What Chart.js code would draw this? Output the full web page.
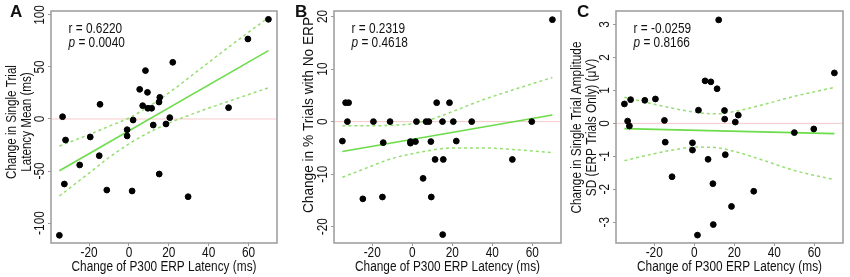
<!DOCTYPE html>
<html>
<head>
<meta charset="utf-8">
<script src="https://cdn.jsdelivr.net/npm/chart.js@4.4.0/dist/chart.umd.min.js"></script>
<style>
  body { margin: 0; background: #fff; width: 850px; height: 277px; position: relative; overflow: hidden; }
  canvas { position: absolute; top: 0; }
</style>
</head>
<body>
<canvas id="chartA" width="283" height="277" style="left:0px"></canvas>
<canvas id="chartB" width="283" height="277" style="left:283px"></canvas>
<canvas id="chartC" width="284" height="277" style="left:566px"></canvas>
<script>
// change of P300 ERP latency (ms), one value per subject, shared by the three panels
const latency = [-34.9, -33.3, -32.4, -31.8, -24.7, -19.4, -14.9, -14.5, -11.1, -0.9,
                 -0.9, 1.6, 2.1, 5.4, 6.9, 8.3, 9.3, 9.5, 11.4, 12.2,
                 15.1, 15.2, 15.5, 18.6, 20.5, 22.0, 29.7, 50.0, 59.7, 70.0];

// panel A: change in single trial latency mean (ms)
const latencyMean = [-111.8, 2.2, -62.5, -20.2, -44.2, -17.3, -35.3, 14.1, -68.3, -10.3,
                     -16.3, -69.2, -1.0, 28.5, 12.8, 46.5, 25.6, 10.3, 10.3, -5.8,
                     16.3, -52.9, 20.8, -4.8, 1.3, 54.5, -74.7, 10.9, 76.9, 95.8];

// panel B: change in % trials with no ERP
const noErpTrials = [-3.7, 3.6, 0, 3.6, -14.7, 0, -14.35, -4.0, 0, -4.1,
                     -3.8, -3.8, 0, -10.8, 0, 0, -3.8, -14.35, -7.2, 3.6,
                     0, -21.5, -7.2, 3.6, 0, -3.7, 0, -7.2, 0, 19.4];

// panel C: change in single trial amplitude SD (ERP trials only) (uV)
const amplitudeSd = [0.59, 0.07, -0.08, 0.72, 0.70, 0.74, 0.09, -0.57, -1.62, -0.59,
                     -0.81, -3.39, 0.40, 1.29, -1.09, 1.26, -1.83, -3.07, 1.05, 3.14,
                     0.39, 0.13, -0.95, -2.52, 0.04, 0.25, -2.06, -0.28, -0.17, 1.53];

// regression lines (end points) and confidence bands
const fitX = [-34.9, 70];
const fitA = [-49.7, 65.7];
const fitB = [-5.7, 1.25];
const fitC = [-0.16, -0.31];

const bandX = [-34.9, -20, -10, 0, 10, 20, 35, 50, 70];
const upperA = [-26, -15, -7, 1, 12, 25, 47, 69, 97.5];
const lowerA = [-74, -52, -37, -24, -13, -4, 7, 17, 30];
const upperB = [-0.8, -0.8, -0.7, -0.4, 0.5, 1.9, 4.1, 6.0, 8.4];
const lowerB = [-10.6, -8.4, -7.0, -6.1, -5.4, -5.0, -5.0, -5.3, -5.9];
const upperC = [0.79, 0.58, 0.45, 0.34, 0.29, 0.36, 0.58, 0.82, 1.09];
const lowerC = [-1.13, -0.92, -0.80, -0.72, -0.73, -0.85, -1.13, -1.43, -1.71];

const xTicks = [-20, 0, 20, 40, 60];
const yTicksA = [-100, -50, 0, 50, 100];
const yTicksB = [-20, -10, 0, 10, 20];
const yTicksC = [-3, -2, -1, 0, 1, 2, 3];

const xTitle = 'Change of P300 ERP Latency (ms)';

// colours
const BOX_GREY = '#9a9a9a';
const FIT_GREEN = '#6cdc4a';
const BAND_GREEN = '#95df72';
const ZERO_PINK = '#f6c9c9';
const INK = '#111';

// the figure's text is Helvetica squeezed horizontally; no narrow face here, so squeeze by hand
const FAMILY = '"Liberation Sans", Arial, sans-serif';
const SIZE = 14;
const SQUEEZE = 0.846;
Chart.defaults.font.family = FAMILY;
Chart.defaults.font.size = SIZE;

const pts = (xs, ys) => xs.map((x, i) => ({ x, y: ys[i] }));

function squeezed(ctx, text, x, y, k, rot, align) {
  ctx.save();
  ctx.translate(x, y);
  if (rot) ctx.rotate(rot);
  ctx.scale(k, 1);
  ctx.textAlign = align || 'center';
  ctx.fillText(text, 0, 0);
  ctx.restore();
}

const panelDecor = {
  id: 'panelDecor',
  afterDraw(chart, args, o) {
    const { ctx, chartArea: a } = chart;
    const { x, y } = chart.scales;
    const up = -Math.PI / 2;
    ctx.save();
    ctx.strokeStyle = BOX_GREY;
    ctx.lineWidth = 1.5;
    ctx.strokeRect(a.left, a.top, a.right - a.left, a.bottom - a.top);

    ctx.fillStyle = INK;
    ctx.textBaseline = 'alphabetic';
    ctx.font = `${SIZE}px ${FAMILY}`;

    // tick labels
    xTicks.forEach(v => squeezed(ctx, String(v), x.getPixelForValue(v), 257, SQUEEZE));
    o.yTicks.forEach(v => squeezed(ctx, String(v), a.left - 7.5, y.getPixelForValue(v), SQUEEZE, up));

    // axis titles
    squeezed(ctx, xTitle, (a.left + a.right) / 2, 271, SQUEEZE);
    o.yTitle.forEach((line, i) =>
      squeezed(ctx, line, a.left + o.yTitleX[i], o.yTitleY, o.yTitleK, up));

    // panel letter
    ctx.font = 'bold 17px ' + FAMILY;
    ctx.textAlign = 'left';
    ctx.fillText(o.letter, o.letterX, 17);

    // r and p
    const tx = a.left + 17.5;
    ctx.font = `${SIZE}px ${FAMILY}`;
    squeezed(ctx, 'r = ' + o.r, tx, a.top + 22.3, SQUEEZE, 0, 'left');
    ctx.font = `italic ${SIZE}px ${FAMILY}`;
    const pw = ctx.measureText('p').width * SQUEEZE;
    squeezed(ctx, 'p', tx, a.top + 35.7, SQUEEZE, 0, 'left');
    ctx.font = `${SIZE}px ${FAMILY}`;
    squeezed(ctx, ' = ' + o.p, tx + pw, a.top + 35.7, SQUEEZE, 0, 'left');
    ctx.restore();
  }
};

function makePanel(id, p) {
  const band = (ys) => ({
    type: 'line', data: pts(bandX, ys), borderColor: BAND_GREEN, borderWidth: 1.5,
    borderDash: [3, 3], pointRadius: 0, cubicInterpolationMode: 'monotone'
  });
  return new Chart(document.getElementById(id), {
    type: 'scatter',
    data: {
      datasets: [
        { data: pts(latency, p.values), backgroundColor: '#000', borderColor: '#000',
          pointRadius: 2.9, pointHoverRadius: 2.9 },
        { type: 'line', data: pts(fitX, p.fit), borderColor: FIT_GREEN, borderWidth: 1.6, pointRadius: 0 },
        band(p.upper),
        band(p.lower),
        { type: 'line', data: [{ x: p.xMin, y: 0 }, { x: p.xMax, y: 0 }],
          borderColor: ZERO_PINK, borderWidth: 1, pointRadius: 0 }
      ]
    },
    options: {
      responsive: false,
      animation: false,
      events: [],
      layout: { padding: { top: 11, right: p.padRight, left: 0, bottom: 0 } },
      plugins: {
        legend: { display: false },
        tooltip: { enabled: false },
        panelDecor: {
          yTicks: p.yTicks, letter: p.letter, letterX: p.letterX, r: p.r, p: p.p,
          yTitle: p.yTitle, yTitleX: p.yTitleX, yTitleY: p.yTitleY, yTitleK: p.yTitleK
        }
      },
      scales: {
        x: {
          type: 'linear', min: p.xMin, max: p.xMax,
          afterBuildTicks: s => { s.ticks = xTicks.map(v => ({ value: v })); },
          afterFit: s => { s.height = 34; },
          grid: { drawOnChartArea: false, drawTicks: true, tickLength: 3, color: BOX_GREY },
          border: { display: false },
          ticks: { display: false }
        },
        y: {
          type: 'linear', min: p.yMin, max: p.yMax,
          afterBuildTicks: s => { s.ticks = p.yTicks.map(v => ({ value: v })); },
          afterFit: s => { s.width = p.left; },
          grid: { drawOnChartArea: false, drawTicks: true, tickLength: 3, color: BOX_GREY },
          border: { display: false },
          ticks: { display: false }
        }
      }
    },
    plugins: [panelDecor]
  });
}

const X_MIN = -39.1, X_MAX = 74.3;

makePanel('chartA', {
  values: latencyMean, fit: fitA, upper: upperA, lower: lowerA,
  xMin: X_MIN, xMax: X_MAX, yMin: -119.2, yMax: 103.8, yTicks: yTicksA,
  left: 51, padRight: 6, letter: 'A', letterX: 10,
  yTitle: ['Change in Single Trial', 'Latency Mean (ms)'], yTitleX: [-35, -20.5], yTitleY: 122, yTitleK: 0.83,
  r: '0.6220', p: '0.0040'
});

makePanel('chartB', {
  values: noErpTrials, fit: fitB, upper: upperB, lower: lowerB,
  xMin: X_MIN, xMax: X_MAX, yMin: -23.1, yMax: 21.05, yTicks: yTicksB,
  left: 51, padRight: 5, letter: 'B', letterX: 12,
  yTitle: ['Change in % Trials with No ERP'], yTitleX: [-20.7], yTitleY: 115, yTitleK: 0.976,
  r: '0.2319', p: '0.4618'
});

makePanel('chartC', {
  values: amplitudeSd, fit: fitC, upper: upperC, lower: lowerC,
  xMin: X_MIN, xMax: X_MAX, yMin: -3.63, yMax: 3.41, yTicks: yTicksC,
  left: 50, padRight: 7, letter: 'C', letterX: 11,
  yTitle: ['Change in Single Trial Amplitude', 'SD (ERP Trials Only) (\u03bcV)'], yTitleX: [-35, -20.5], yTitleY: 127.5, yTitleK: SQUEEZE,
  r: '-0.0259', p: '0.8166'
});
</script>
</body>
</html>
